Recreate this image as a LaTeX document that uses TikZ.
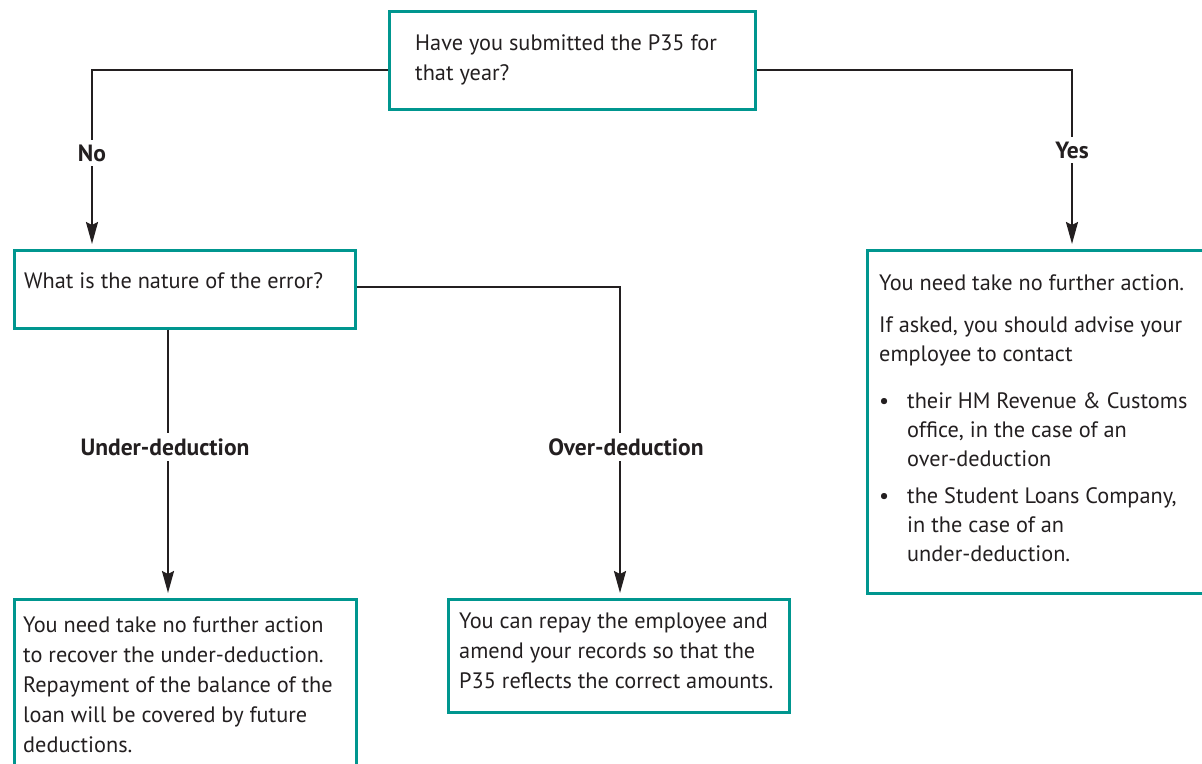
\documentclass[tikz,border=0pt]{standalone}
\usepackage{fontspec}
\setmainfont{PT Sans}
\usetikzlibrary{arrows.meta,calc}
\definecolor{boxteal}{RGB}{0,150,143}
\definecolor{ink}{RGB}{35,31,32}
\tikzset{
  box/.style={draw=boxteal, line width=2.5pt, rectangle, inner sep=0pt, anchor=north west},
  % base west of a multi-line node sits on its last baseline
  txt/.style={font=\fontsize{22.3}{30}\selectfont, text=ink, align=left, inner sep=0pt, anchor=base west},
  lbl/.style={font=\fontsize{23.5}{29}\selectfont\bfseries, text=ink, fill=white, inner xsep=2pt, inner ysep=5pt},
  conn/.style={draw=ink, line width=2.2pt},
  arr/.style={conn, -{Stealth[length=22pt,width=12pt,inset=3pt]}, shorten >=5pt},
}
\begin{document}
\begin{tikzpicture}[x=1pt,y=-1pt]
  \useasboundingbox (0,0) rectangle (1202,763);
  \clip (0,0) rectangle (1202,763);

  % boxes
  \node[box, minimum width=366pt, minimum height=98pt] (q1) at (388,10) {};
  \node[box, minimum width=341pt, minimum height=78pt] (q2) at (13,249) {};
  \node[box, minimum width=360pt, minimum height=343pt] (yesbox) at (866,249) {};
  \node[box, minimum width=342pt, minimum height=200pt] (under) at (13,598) {};
  \node[box, minimum width=341pt, minimum height=113pt] (over) at (447,598) {};

  % box texts
  \node[txt] (q1t) at (415,80) {Have you submitted the P35 for\\that year?};
  \node[txt] (q2t) at (24,288) {What is the nature of the error?};
  \node[txt, font=\fontsize{22.3}{29}\selectfont] (yest) at (879,561) {You need take no further action.\\[13pt]
    If asked, you should advise your\\
    employee to contact\\[18pt]
    \makebox[28pt][l]{•}their HM Revenue \& Customs\\
    \hspace*{28pt}office, in the case of an\\
    \hspace*{28pt}over-deduction\\[8pt]
    \makebox[28pt][l]{•}the Student Loans Company,\\
    \hspace*{28pt}in the case of an\\
    \hspace*{28pt}under-deduction.};
  \node[txt] (undert) at (23,752) {You need take no further action\\
    to recover the under-deduction.\\
    Repayment of the balance of the\\
    loan will be covered by future\\
    deductions.};
  \node[txt] (overt) at (459,688) {You can repay the employee and\\
    amend your records so that the\\
    P35 reflects the correct amounts.};

  % connectors
  \draw[arr] ([yshift=-10pt]q1.west) -| ([xshift=79pt]q2.north west);
  \draw[arr] ([yshift=-10pt]q1.east) -| ([xshift=206pt]yesbox.north west);
  \draw[arr] ([yshift=2pt]q2.east) -| ([xshift=173pt]over.north west);
  \draw[arr] ([xshift=155pt]q2.south west) -- ([xshift=155pt]under.north west);

  % branch labels
  \node[lbl] (no) at (92,153) {No};
  \node[lbl] (yes) at (1072,150) {Yes};
  \node[lbl] (ud) at (165,447) {Under-deduction};
  \node[lbl] (od) at (626,447) {Over-deduction};
\end{tikzpicture}
\end{document}
